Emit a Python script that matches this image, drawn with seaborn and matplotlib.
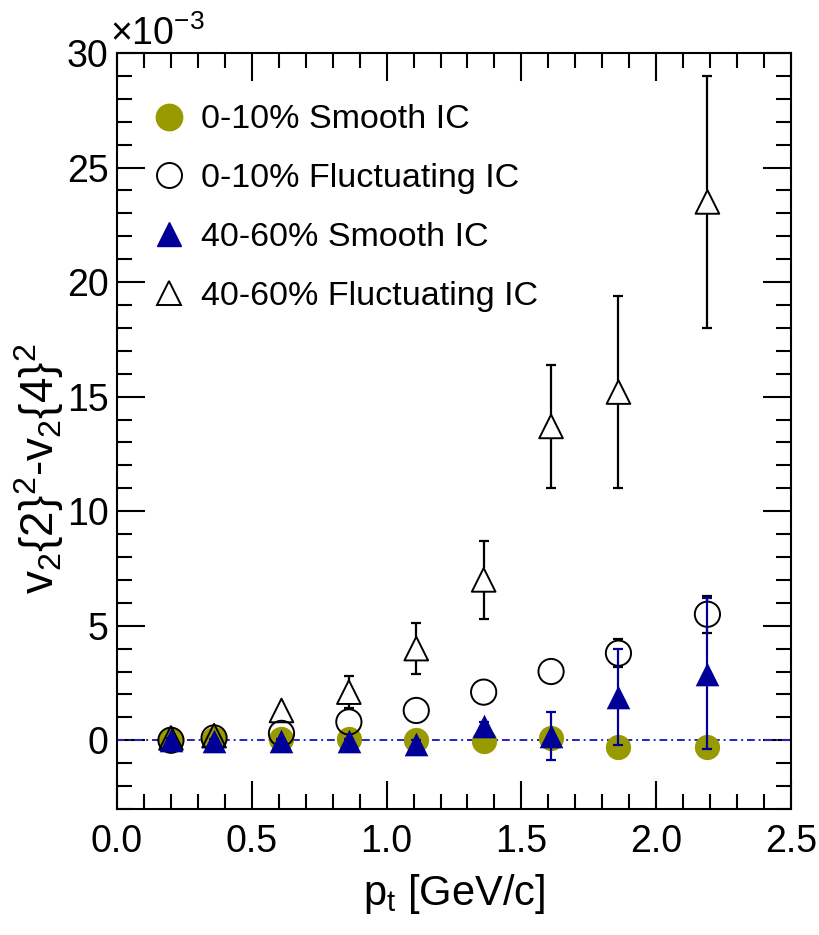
import numpy as np
import pandas as pd
import matplotlib
matplotlib.use("Agg")
import matplotlib.pyplot as plt
import seaborn as sns
from matplotlib.lines import Line2D
from matplotlib.ticker import MultipleLocator, FormatStrFormatter

# ---- data (values in units of 1e-3) ----
pt = [0.2, 0.36, 0.61, 0.86, 1.11, 1.36, 1.61, 1.86, 2.19]
smooth_010 = [0.0, 0.05, 0.05, 0.05, 0.0, -0.05, 0.1, -0.3, -0.3]
smooth_010_err = [0.05, 0.05, 0.05, 0.05, 0.05, 0.05, 0.1, 0.1, 0.1]
fluct_010 = [0.0, 0.1, 0.3, 0.8, 1.3, 2.1, 3.0, 3.8, 5.5]
fluct_010_err = [0.05, 0.05, 0.1, 0.15, 0.15, 0.2, 0.25, 0.6, 0.8]
smooth_4060 = [0.0, -0.05, -0.05, -0.05, -0.15, 0.6, 0.2, 1.9, 2.9]
smooth_4060_err = [0.1, 0.1, 0.1, 0.1, 0.15, 0.2, 1.05, 2.1, 3.3]
fluct_4060 = [0.1, 0.2, 1.3, 2.1, 4.0, 7.0, 13.7, 15.2, 23.5]
fluct_4060_err = [0.1, 0.15, 0.2, 0.7, 1.1, 1.7, 2.7, 4.2, 5.5]

labels = ["0-10% Smooth IC", "0-10% Fluctuating IC",
          "40-60% Smooth IC", "40-60% Fluctuating IC"]
xticks = [0.0, 0.5, 1.0, 1.5, 2.0, 2.5]
yticks = [0, 5, 10, 15, 20, 25, 30]

OLIVE = "#999900"
NAVY = "#000099"

sns.set_theme(style="ticks")
plt.rcParams["font.family"] = ["Liberation Sans", "DejaVu Sans"]
plt.rcParams["mathtext.fontset"] = "custom"
plt.rcParams["mathtext.rm"] = "Liberation Sans"
plt.rcParams["mathtext.it"] = "Liberation Sans"
for k in ["text.color", "axes.labelcolor", "xtick.color", "ytick.color", "axes.edgecolor"]:
    plt.rcParams[k] = "black"

fig = plt.figure(figsize=(8.19, 9.35), dpi=100)
ax = fig.add_axes([0.1429, 0.1348, 0.9658 - 0.1429, 0.9433 - 0.1348])

df = pd.DataFrame({
    "pt": pt * 4,
    "val": smooth_010 + fluct_010 + smooth_4060 + fluct_4060,
    "err": smooth_010_err + fluct_010_err + smooth_4060_err + fluct_4060_err,
    "series": sum([[l] * len(pt) for l in labels], []),
})

ax.axhline(0, color="#2222cc", lw=1.4, ls=(0, (4, 2, 1, 2)), zorder=1)

styles = {
    labels[0]: dict(marker="o", s=330, fc=OLIVE, ec=OLIVE, lw=0, ecol=OLIVE, z=2, gap=None),
    labels[1]: dict(marker="o", s=330, fc="none", ec="black", lw=1.4, ecol="black", z=3, gap=0.55),
    labels[2]: dict(marker="^", s=290, fc=NAVY, ec=NAVY, lw=0, ecol=NAVY, z=5, gap=None),
    labels[3]: dict(marker="^", s=290, fc="none", ec="black", lw=1.4, ecol="black", z=4, gap=0.5),
}


def open_errors(ax, d, gap, color, z):
    # ROOT style: the bar is not drawn inside the marker
    for xi, yi, ei in zip(d.pt, d.val, d.err):
        if ei > gap:
            ax.vlines([xi, xi], [yi + gap, yi - ei], [yi + ei, yi - gap],
                      colors=color, lw=1.6, zorder=z)
            ax.plot([xi, xi], [yi + ei, yi - ei], ls="none", marker="_",
                    ms=7, mew=1.6, color=color, zorder=z)


for lab in labels:
    st = styles[lab]
    d = df[df.series == lab]
    if st["gap"] is None:
        ax.errorbar(d.pt, d.val, yerr=d.err, fmt="none", ecolor=st["ecol"],
                    elinewidth=1.6, capsize=3.5, capthick=1.6, zorder=st["z"])
    else:
        open_errors(ax, d, st["gap"], st["ecol"], st["z"])
    sns.scatterplot(data=d, x="pt", y="val", ax=ax, marker=st["marker"], s=st["s"],
                    color=st["fc"], edgecolor=st["ec"], linewidth=st["lw"],
                    zorder=st["z"] + 0.5, legend=False)

ax.set_xlim(0, 2.5)
ax.set_ylim(-3, 30)
ax.set_xticks(xticks)
ax.set_yticks(yticks)
ax.xaxis.set_major_formatter(FormatStrFormatter("%.1f"))
ax.xaxis.set_minor_locator(MultipleLocator(0.1))
ax.yaxis.set_minor_locator(MultipleLocator(1))
ax.tick_params(which="both", direction="in", top=True, right=True,
               labelsize=27, color="black", width=1.5)
ax.tick_params(which="major", length=20)
ax.tick_params(which="minor", length=11)
ax.tick_params(axis="x", which="major", pad=11)
ax.tick_params(axis="y", which="major", pad=6)
for sp in ax.spines.values():
    sp.set_linewidth(1.5)
    sp.set_color("black")

ax.set_xlabel(r"p$_{\mathrm{t}}$ [GeV/c]", fontsize=30)
ax.set_ylabel(r"v$_2${2}$^2$-v$_2${4}$^2$", fontsize=33)
ax.xaxis.set_label_coords(0.5, -0.083)
ax.yaxis.set_label_coords(-0.075, 0.45)

ax.text(-0.01, 1.0, r"$\times$10$^{-3}$", transform=ax.transAxes,
        fontsize=27, ha="left", va="bottom")

handles = [
    Line2D([], [], ls="none", marker="o", ms=19, mfc=OLIVE, mec=OLIVE),
    Line2D([], [], ls="none", marker="o", ms=18, mfc="none", mec="black", mew=1.4),
    Line2D([], [], ls="none", marker="^", ms=17, mfc=NAVY, mec=NAVY),
    Line2D([], [], ls="none", marker="^", ms=17, mfc="none", mec="black", mew=1.4),
]
ax.legend(handles, labels, loc="upper left", bbox_to_anchor=(0.029, 0.95),
          frameon=False, fontsize=24.5, handletextpad=0.38, labelspacing=0.82,
          borderaxespad=0, handlelength=1.1)

fig.savefig("out.png", dpi=100)
